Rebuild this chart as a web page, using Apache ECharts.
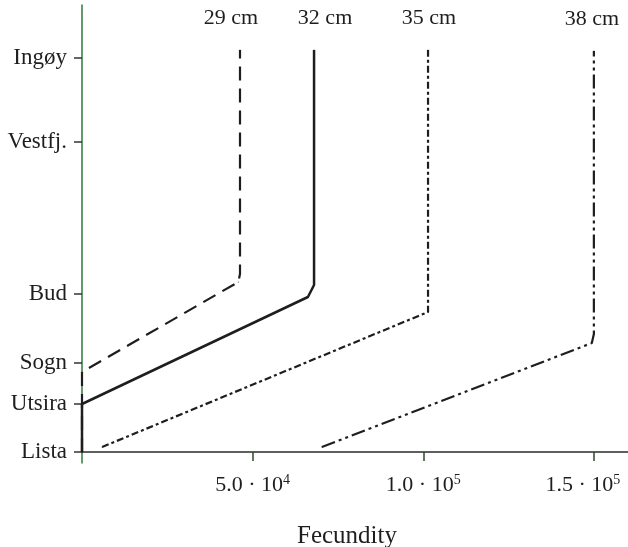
<!DOCTYPE html>
<html>
<head>
<meta charset="utf-8">
<script src="https://cdn.jsdelivr.net/npm/echarts@6/dist/echarts.min.js"></script>
<style>
html, body { margin: 0; padding: 0; background: #fff; }
#chart { width: 628px; height: 547px; }
</style>
</head>
<body>
<div id="chart"></div>
<script>
// stations along the coast, placed by relative distance north of Lista
const stations = ['Lista', 'Utsira', 'Sogn', 'Bud', 'Vestfj.', 'Ingøy'];
const stationPos = [0, 48, 89, 158, 310, 394];

const xTicks = [50000, 100000, 150000];
const xTickBase = ['5.0', '1.0', '1.5'];
const xTickExp = ['4', '5', '5'];

// fecundity vs position, one line per body length
const fec29 = [[0, 0], [0, 80], [45800, 170], [46300, 178], [46300, 402]];
const fec32 = [[0, 0], [0, 48], [66200, 155], [68000, 167], [68000, 402]];
const fec35 = [[5900, 5], [101400, 140], [101400, 402]];
const fec38 = [[70300, 5], [149400, 109], [150000, 118], [150000, 401]];

const serif = '"Liberation Serif", "DejaVu Serif", serif';
const ink = '#1e1e1e';

const chart = echarts.init(document.getElementById('chart'));

const makeSeries = (name, pts, type, width, offset) => ({
  name: name,
  type: 'line',
  symbol: 'circle',
  symbolSize: 1,
  itemStyle: { color: ink },
  lineStyle: { color: ink, width: width, type: type },
  data: pts.map((p, i) => i === pts.length - 1 ? {
    value: p,
    label: {
      show: true,
      position: 'top',
      distance: 20,
      offset: [offset, 0],
      formatter: name,
      fontFamily: serif,
      fontSize: 22,
      color: ink
    }
  } : p)
});

const option = {
  animation: false,
  grid: { left: 82, right: 0, top: 5, bottom: 84, outerBoundsMode: 'none' },
  xAxis: {
    type: 'value',
    min: 0,
    max: 160000,
    name: 'Fecundity',
    nameLocation: 'middle',
    nameGap: 61,
    nameTextStyle: { fontFamily: serif, fontSize: 25, color: ink, padding: [0, 16, 0, 0] },
    axisLine: { onZero: true, lineStyle: { color: '#2b2b2b', width: 1.5 } },
    axisTick: { customValues: xTicks, length: 9, lineStyle: { color: '#2d4a30', width: 1.5 } },
    axisLabel: {
      customValues: xTicks,
      margin: 10,
      formatter: (v) => {
        const i = xTicks.indexOf(v);
        // last label sits a little left of its tick so it stays inside the frame
        const sup = i === xTicks.length - 1 ? 'e' : 's';
        return '{m|' + xTickBase[i] + ' · 10}{' + sup + '|' + xTickExp[i] + '}';
      },
      rich: {
        m: { fontFamily: serif, fontSize: 22, color: ink },
        s: { fontFamily: serif, fontSize: 14, color: ink, padding: [0, 0, 10, 0] },
        e: { fontFamily: serif, fontSize: 14, color: ink, padding: [0, 22, 10, 0] }
      }
    },
    splitLine: { show: false }
  },
  yAxis: {
    type: 'value',
    min: -11,
    max: 447,
    axisLine: { show: true, lineStyle: { color: '#2f7a3c', width: 1.5 } },
    axisTick: { show: true, customValues: stationPos, length: 8, lineStyle: { color: '#2b3b2d', width: 1.5 } },
    axisLabel: {
      customValues: stationPos,
      margin: 15,
      fontFamily: serif,
      fontSize: 23,
      color: ink,
      formatter: (v) => stations[stationPos.indexOf(v)]
    },
    splitLine: { show: false }
  },
  series: [
    makeSeries('29 cm', fec29, [14, 8], 2.2, -9),
    makeSeries('32 cm', fec32, 'solid', 2.5, 11),
    makeSeries('35 cm', fec35, [7, 3, 3, 3], 2.2, 1),
    makeSeries('38 cm', fec38, [14, 4, 3, 4, 3, 4], 2.2, -2)
  ]
};

chart.setOption(option);
</script>
</body>
</html>
